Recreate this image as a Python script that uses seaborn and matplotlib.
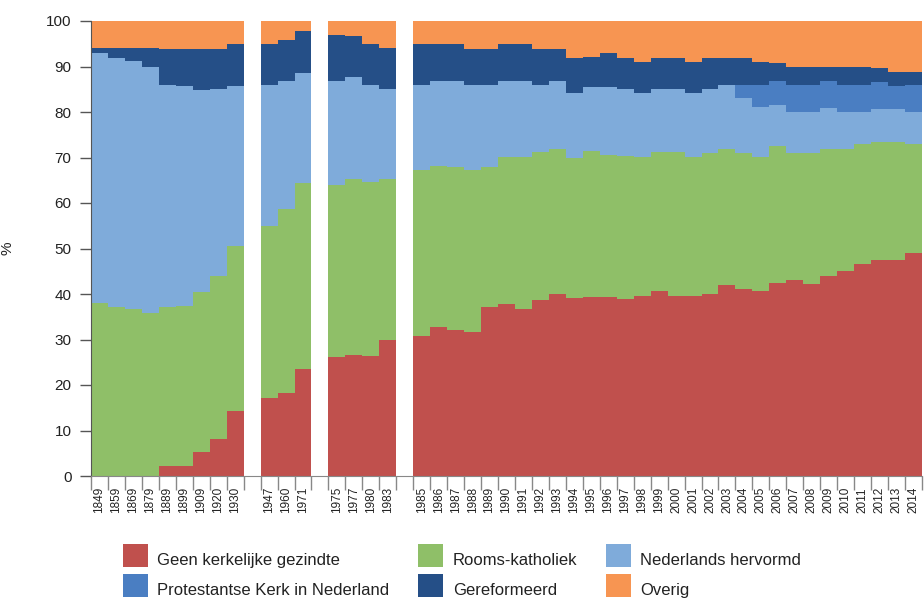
import numpy as np
import pandas as pd
import matplotlib
matplotlib.use('Agg')
import matplotlib.pyplot as plt
import seaborn as sns
from matplotlib.patches import Patch, Rectangle
from matplotlib.legend_handler import HandlerPatch

# Jaren (groepen met een lege kolom ertussen)
jaren_a = ['1849', '1859', '1869', '1879', '1889', '1899', '1909', '1920', '1930']
jaren_b = ['1947', '1960', '1971']
jaren_c = ['1975', '1977', '1980', '1983']
jaren_d = [str(j) for j in range(1985, 2015)]

# Percentages per kerkelijke gezindte
geen = [0, 0, 0, 0, 2.2, 2.2, 5.2, 8.1, 14.3,
        17.2, 18.3, 23.5,
        26.2, 26.6, 26.4, 29.8,
        30.8, 32.7, 32.1, 31.7, 37.1, 37.7, 36.7, 38.7, 40.1, 39.1,
        39.3, 39.3, 38.8, 39.6, 40.7, 39.6, 39.6, 40.1, 42.0, 41.0,
        40.7, 42.4, 43.1, 42.1, 44.0, 45.1, 46.6, 47.5, 47.5, 49.0]
rk = [38.0, 37.1, 36.7, 35.8, 34.9, 35.2, 35.3, 35.9, 36.2,
      37.8, 40.3, 40.8,
      37.8, 38.7, 38.3, 35.5,
      36.5, 35.5, 35.8, 35.6, 30.8, 32.5, 33.5, 32.5, 31.8, 30.9,
      32.2, 31.2, 31.5, 30.6, 30.5, 31.6, 30.5, 30.8, 29.9, 29.9,
      29.5, 30.2, 27.8, 28.8, 27.9, 26.8, 26.4, 26.0, 26.0, 24.0]
nh = [55.0, 54.8, 54.4, 54.2, 48.8, 48.4, 44.3, 41.0, 35.2,
      30.9, 28.2, 24.3,
      22.9, 22.4, 21.2, 19.8,
      18.7, 18.7, 19.0, 18.7, 18.1, 16.7, 16.7, 14.8, 15.0, 14.1,
      13.9, 14.9, 14.7, 13.9, 13.8, 13.8, 14.0, 14.1, 14.0, 12.1,
      10.9, 9.0, 9.0, 9.0, 9.0, 8.0, 6.9, 7.2, 7.2, 6.9]
pkn = [0, 0, 0, 0, 0, 0, 0, 0, 0,
       0, 0, 0,
       0, 0, 0, 0,
       0, 0, 0, 0, 0, 0, 0, 0, 0, 0,
       0, 0, 0, 0, 0, 0, 0, 0, 0, 2.9,
       4.8, 5.3, 6.0, 6.0, 6.0, 6.0, 6.0, 5.9, 5.0, 6.0]
gf = [1.0, 2.1, 3.0, 4.1, 7.9, 8.0, 9.0, 8.9, 9.2,
      9.0, 9.0, 9.1,
      10.0, 9.1, 9.0, 9.0,
      8.9, 8.0, 8.0, 7.9, 7.9, 8.0, 8.0, 7.9, 7.0, 7.8,
      6.7, 7.6, 6.9, 6.9, 6.9, 6.9, 6.9, 6.9, 6.0, 6.0,
      5.1, 3.8, 4.0, 4.0, 3.0, 4.0, 4.0, 3.1, 3.0, 3.0]
overig = [6.0, 6.0, 5.9, 5.9, 6.2, 6.2, 6.2, 6.1, 5.1,
          5.1, 4.2, 2.3,
          3.1, 3.2, 5.1, 5.9,
          5.1, 5.1, 5.1, 6.1, 6.1, 5.1, 5.1, 6.1, 6.1, 8.1,
          7.9, 7.0, 8.1, 9.0, 8.1, 8.1, 9.0, 8.1, 8.1, 8.1,
          9.0, 9.3, 10.1, 10.1, 10.1, 10.1, 10.1, 10.3, 11.3, 11.1]

namen = ['Geen kerkelijke gezindte', 'Rooms-katholiek', 'Nederlands hervormd',
         'Protestantse Kerk in Nederland', 'Gereformeerd', 'Overig']
kleuren = ['#C0504D', '#8FBF68', '#7FABDA', '#4A7EC2', '#254F87', '#F79552']

df = pd.DataFrame({'jaar': jaren_a + jaren_b + jaren_c + jaren_d,
                   namen[0]: geen, namen[1]: rk, namen[2]: nh,
                   namen[3]: pkn, namen[4]: gf, namen[5]: overig})
cum = df[namen].cumsum(axis=1)
cum['jaar'] = df['jaar']

# volgorde met lege plekken tussen de groepen
order = jaren_a + ['gap1'] + jaren_b + ['gap2'] + jaren_c + ['gap3'] + jaren_d

sns.set_style('ticks')
plt.rcParams['font.family'] = ['Liberation Sans', 'DejaVu Sans']

fig = plt.figure(figsize=(9.24, 5.98), dpi=100)
ax = fig.add_axes([91 / 924, 1 - 476 / 598, 831 / 924, 455 / 598])

# gestapelde staven: cumulatief van boven naar beneden tekenen
for naam, kleur in zip(reversed(namen), reversed(kleuren)):
    sns.barplot(data=cum, x='jaar', y=naam, order=order, color=kleur,
                saturation=1, width=1, linewidth=0, errorbar=None, ax=ax)

ax.set_xlim(-0.5, len(order) - 0.5)
ax.set_ylim(0, 100)
ax.set_yticks(range(0, 101, 10))
ax.set_xticks(range(len(order)))
ax.set_xticklabels(['' if o.startswith('gap') else o for o in order])
ax.set_xticks(np.arange(-0.5, len(order), 1), minor=True)
ax.tick_params(axis='x', which='major', length=0, labelsize=8.5, rotation=90,
               pad=8, labelcolor='#222222')
ax.tick_params(axis='x', which='minor', length=10, width=1, color='#888888')
ax.tick_params(axis='y', length=8, width=1, color='#555555', labelsize=11,
               pad=6, labelcolor='#222222')
ax.set_xlabel('')
ax.set_ylabel('%', fontsize=11, color='#222222')
ax.yaxis.set_label_coords(-0.092, 0.5)

sns.despine(ax=ax)
ax.spines['left'].set_color('#555555')
ax.spines['bottom'].set_color('#888888')


# legendavakje: iets boven de tekst, zoals in het origineel
def vakje(legend, orig_handle, xdescent, ydescent, width, height, fontsize):
    return Rectangle((-xdescent, -1.5), width, 16.6)


# legenda (kolomsgewijs gevuld)
volg = [0, 3, 1, 4, 2, 5]
handles = [Patch(facecolor=kleuren[i], edgecolor='none', label=namen[i]) for i in volg]
fig.legend(handles=handles, ncol=3, loc='upper left',
           bbox_to_anchor=(123 / 924, 1 - 553 / 598), frameon=False,
           fontsize=12, handlelength=1.5, handleheight=0.7, handletextpad=0.55,
           columnspacing=1.75, labelspacing=0.89, borderpad=0, borderaxespad=0,
           labelcolor='#222222',
           handler_map={Patch: HandlerPatch(patch_func=vakje)})

fig.savefig('out.png', dpi=100)
